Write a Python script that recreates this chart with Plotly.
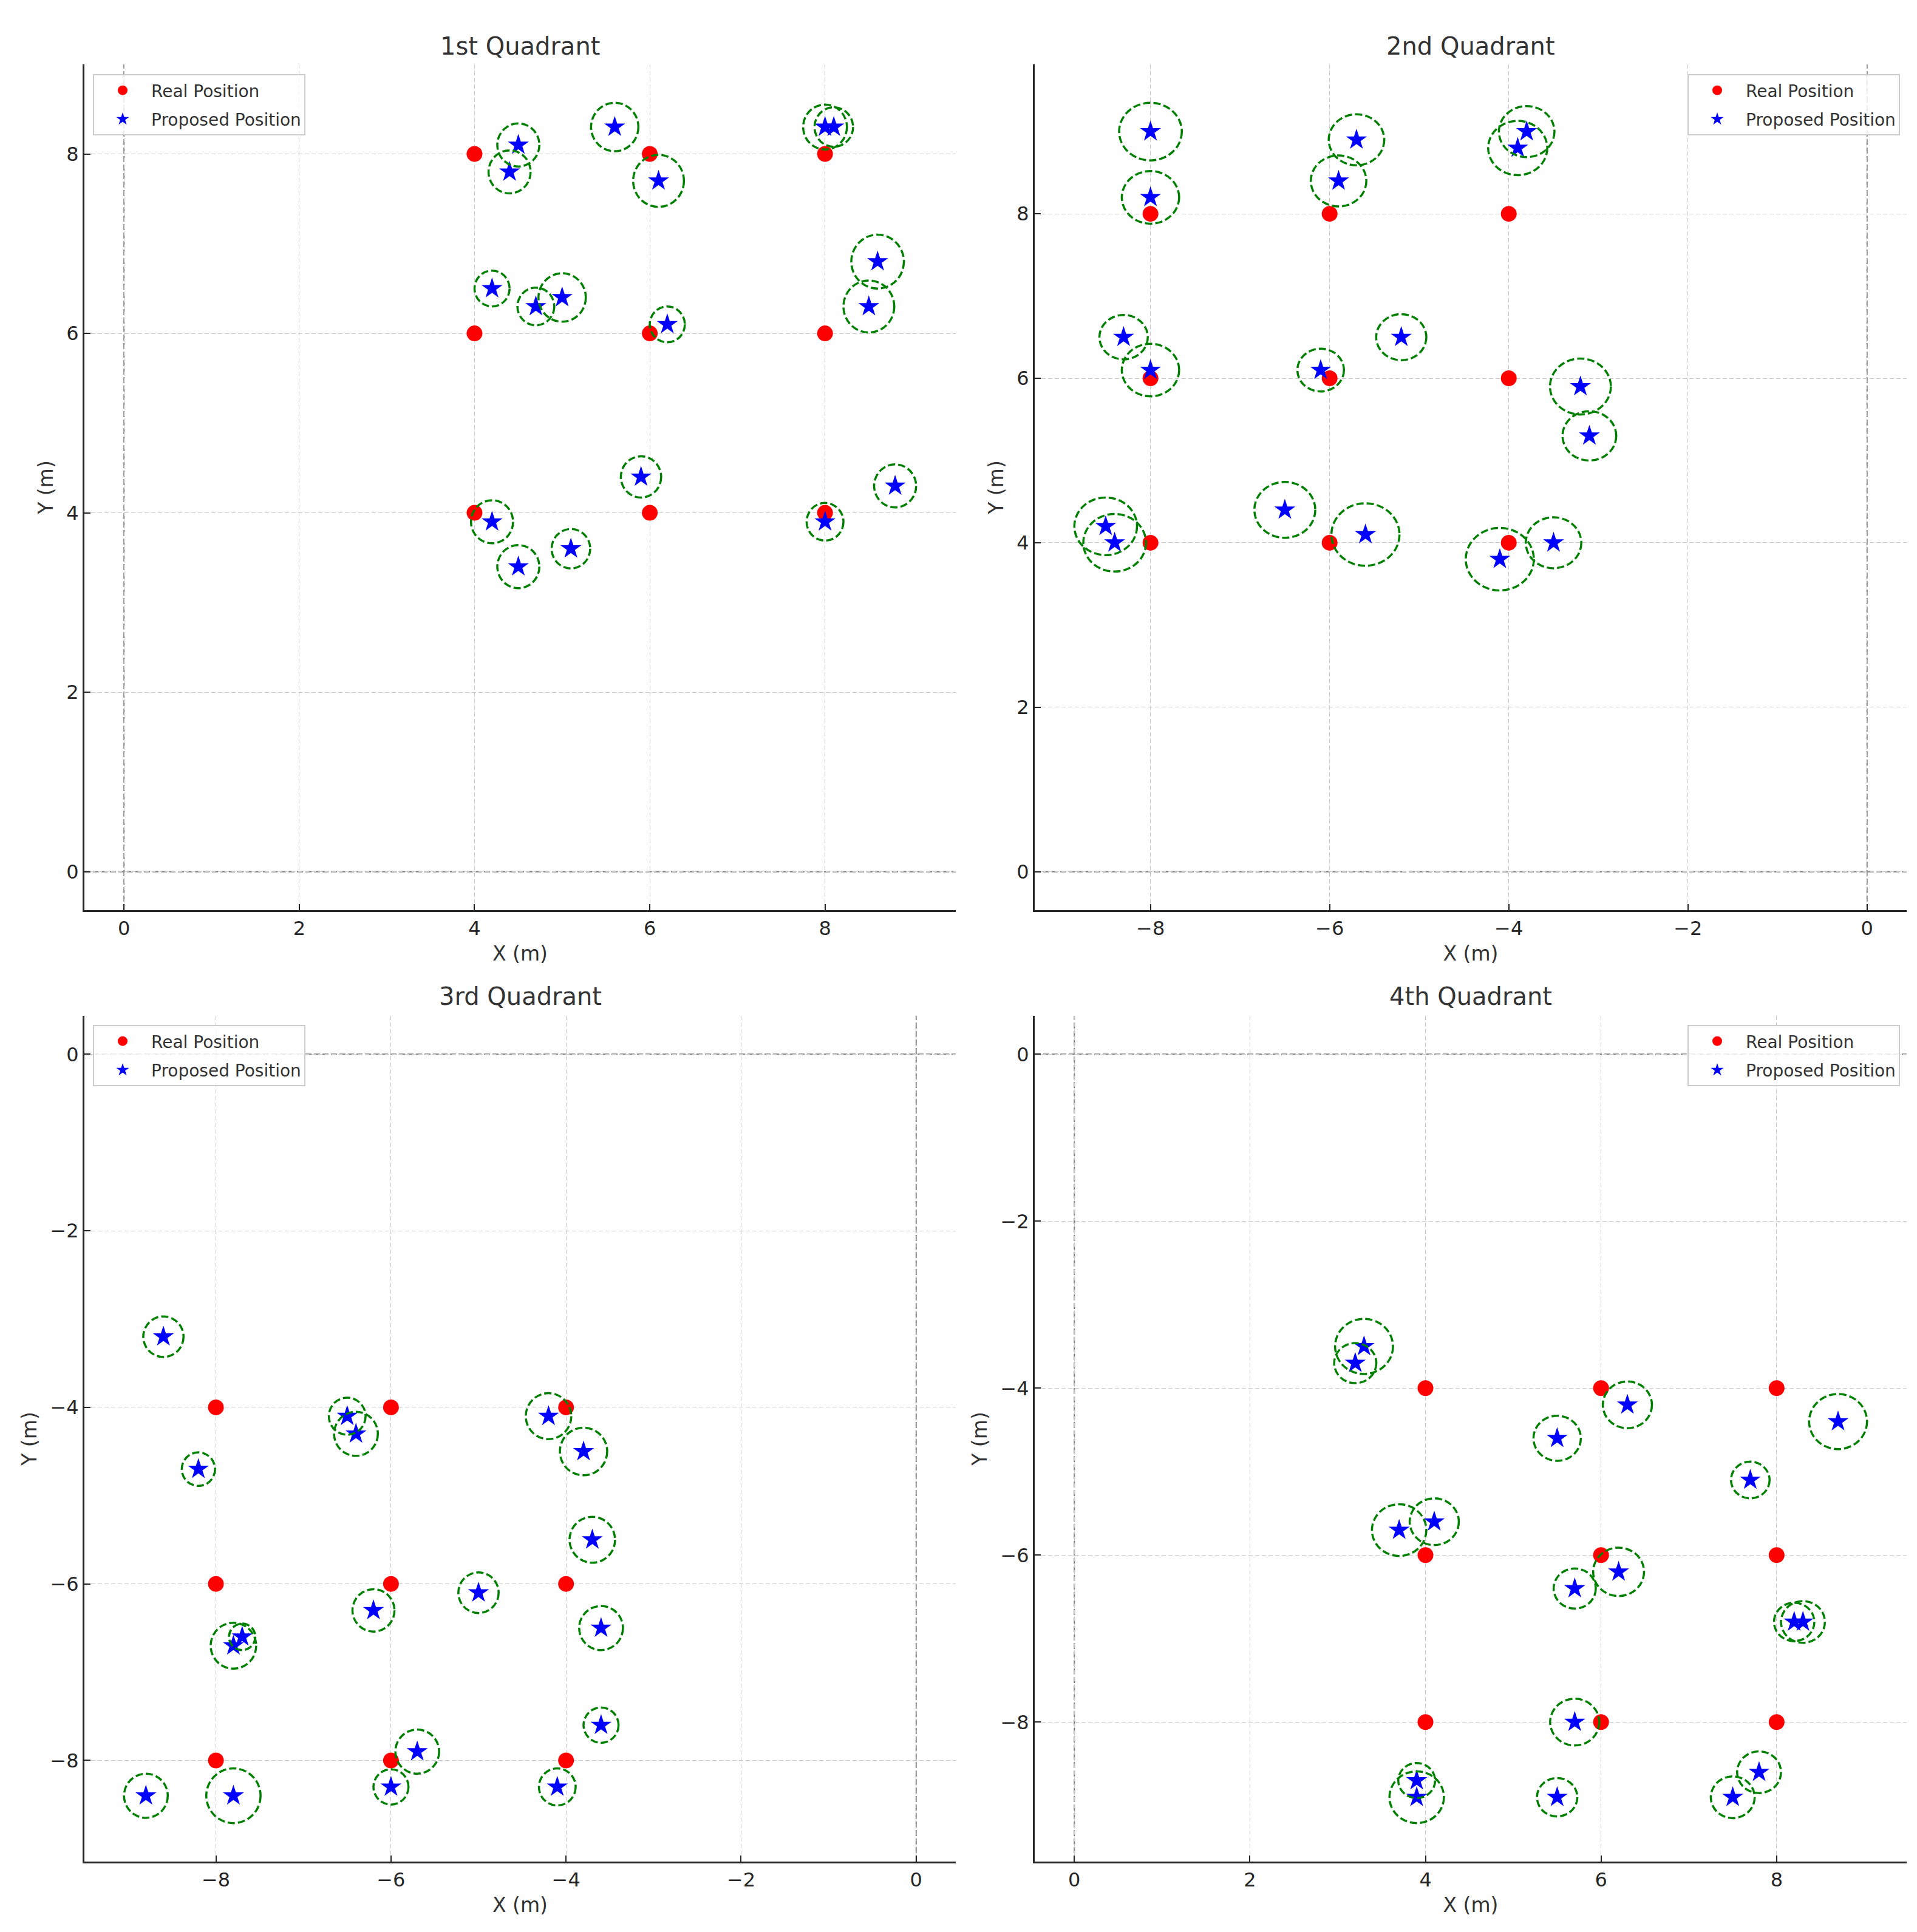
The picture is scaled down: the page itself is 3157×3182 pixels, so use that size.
import plotly.graph_objects as go

# ---------------- data ----------------
titles = ["1st Quadrant", "2nd Quadrant", "3rd Quadrant", "4th Quadrant"]

q1_real_x = [4, 4, 4, 6, 6, 6, 8, 8, 8]
q1_real_y = [4, 6, 8, 4, 6, 8, 4, 6, 8]
q1_prop_x = [4.5, 4.4, 5.6, 6.1, 8.0, 8.1, 8.6, 8.5, 4.2, 4.7, 5.0, 6.2, 5.9, 8.8, 4.2, 4.5, 5.1, 8.0]
q1_prop_y = [8.1, 7.8, 8.3, 7.7, 8.3, 8.3, 6.8, 6.3, 6.5, 6.3, 6.4, 6.1, 4.4, 4.3, 3.9, 3.4, 3.6, 3.9]
q1_radius = [0.24, 0.24, 0.27, 0.29, 0.25, 0.22, 0.30, 0.29, 0.20, 0.21, 0.27, 0.20, 0.23, 0.24, 0.24, 0.24, 0.22, 0.21]

q2_real_x = [-8, -8, -8, -6, -6, -6, -4, -4, -4]
q2_real_y = [4, 6, 8, 4, 6, 8, 4, 6, 8]
q2_prop_x = [-8.0, -8.0, -5.7, -5.9, -3.8, -3.9, -8.3, -8.0, -6.1, -5.2, -3.2, -3.1, -8.5, -8.4, -6.5, -5.6, -4.1, -3.5]
q2_prop_y = [9.0, 8.2, 8.9, 8.4, 9.0, 8.8, 6.5, 6.1, 6.1, 6.5, 5.9, 5.3, 4.2, 4.0, 4.4, 4.1, 3.8, 4.0]
q2_radius = [0.35, 0.32, 0.31, 0.31, 0.31, 0.33, 0.27, 0.32, 0.26, 0.28, 0.34, 0.30, 0.35, 0.35, 0.34, 0.38, 0.38, 0.31]

q3_real_x = [-8, -8, -8, -6, -6, -6, -4, -4, -4]
q3_real_y = [-4, -6, -8, -4, -6, -8, -4, -6, -8]
q3_prop_x = [-8.6, -8.2, -6.5, -6.4, -4.2, -3.8, -3.7, -5.0, -6.2, -7.7, -7.8, -3.6, -3.6, -5.7, -6.0, -4.1, -8.8, -7.8]
q3_prop_y = [-3.2, -4.7, -4.1, -4.3, -4.1, -4.5, -5.5, -6.1, -6.3, -6.6, -6.7, -6.5, -7.6, -7.9, -8.3, -8.3, -8.4, -8.4]
q3_radius = [0.23, 0.19, 0.21, 0.25, 0.26, 0.27, 0.26, 0.23, 0.24, 0.15, 0.26, 0.25, 0.20, 0.25, 0.20, 0.21, 0.25, 0.31]

q4_real_x = [4, 4, 4, 6, 6, 6, 8, 8, 8]
q4_real_y = [-4, -6, -8, -4, -6, -8, -4, -6, -8]
q4_prop_x = [3.3, 3.2, 6.3, 5.5, 8.7, 7.7, 3.7, 4.1, 5.7, 6.2, 8.2, 8.3, 5.7, 7.8, 7.5, 5.5, 3.9, 3.9]
q4_prop_y = [-3.5, -3.7, -4.2, -4.6, -4.4, -5.1, -5.7, -5.6, -6.4, -6.2, -6.8, -6.8, -8.0, -8.6, -8.9, -8.9, -8.7, -8.9]
q4_radius = [0.33, 0.24, 0.28, 0.27, 0.33, 0.22, 0.31, 0.28, 0.24, 0.29, 0.23, 0.25, 0.28, 0.25, 0.25, 0.23, 0.21, 0.31]

quadrants = [
    (q1_real_x, q1_real_y, q1_prop_x, q1_prop_y, q1_radius),
    (q2_real_x, q2_real_y, q2_prop_x, q2_prop_y, q2_radius),
    (q3_real_x, q3_real_y, q3_prop_x, q3_prop_y, q3_radius),
    (q4_real_x, q4_real_y, q4_prop_x, q4_prop_y, q4_radius),
]

# ---------------- layout geometry ----------------
W, H = 3157, 3182
FONT = "DejaVu Sans"
dom_x = [[139 / W, 1574 / W], [1704 / W, 3140 / W]]
dom_y = [[1 - 1499 / H, 1 - 106 / H], [1 - 3066 / H, 1 - 1673 / H]]
title_y = [1 - 76 / H, 1 - 1641 / H]
legend_pos = [
    dict(x=153 / W, xanchor="left"),
    dict(x=3129 / W, xanchor="right"),
    dict(x=153 / W, xanchor="left"),
    dict(x=3129 / W, xanchor="right"),
]
legend_top = [1 - 122 / H, 1 - 1688 / H]


def auto_range(lo_vals, hi_vals):
    lo = min(min(lo_vals), 0)
    hi = max(max(hi_vals), 0)
    pad = 0.05 * (hi - lo)
    return [lo - pad, hi + pad]


fig = go.Figure()
shapes = []
annotations = []
layout = {}

for i, (rx, ry, px, py, rad) in enumerate(quadrants):
    n = "" if i == 0 else str(i + 1)
    col, row = i % 2, i // 2
    xa, ya = "x" + n, "y" + n
    leg = "legend" + n

    fig.add_trace(go.Scatter(
        x=rx, y=ry, mode="markers", name="Real Position", legendgroup="real",
        marker=dict(color="red", size=26, symbol="circle", line=dict(width=0)),
        xaxis=xa, yaxis=ya, legend=leg,
    ))
    fig.add_trace(go.Scatter(
        x=px, y=py, mode="markers", name="Proposed Position", legendgroup="prop",
        marker=dict(color="blue", size=26, symbol="star", line=dict(width=0)),
        xaxis=xa, yaxis=ya, legend=leg,
    ))

    xr = auto_range([a - r for a, r in zip(px, rad)] + rx, [a + r for a, r in zip(px, rad)] + rx)
    yr = auto_range([b - r for b, r in zip(py, rad)] + ry, [b + r for b, r in zip(py, rad)] + ry)

    axis_common = dict(
        showgrid=True, gridcolor="#c8c8c8", gridwidth=1.4, griddash="7px,4px",
        zeroline=False, showline=True, linecolor="#262626", linewidth=3,
        ticks="inside", ticklen=10, tickwidth=2, tickcolor="#262626",
        tickfont=dict(size=32, color="#262626", family=FONT),
        dtick=2, mirror=False,
    )
    layout["xaxis" + n] = dict(
        axis_common, domain=dom_x[col], range=xr, anchor=ya,
        title=dict(text="X (m)", font=dict(size=33, color="#333333", family=FONT), standoff=12),
    )
    layout["yaxis" + n] = dict(
        axis_common, domain=dom_y[row], range=yr, anchor=xa,
        title=dict(text="Y (m)", font=dict(size=33, color="#333333", family=FONT), standoff=12),
    )

    layout["legend" + n] = dict(
        legend_pos[i], y=legend_top[row], yanchor="top",
        bgcolor="rgba(255,255,255,0.8)", bordercolor="#cccccc", borderwidth=2,
        font=dict(size=28, color="#333333", family=FONT),
        itemwidth=84, tracegroupgap=8, traceorder="grouped",
    )

    # reference lines at x=0 and y=0
    shapes.append(dict(type="line", xref=xa, yref=ya + " domain", x0=0, x1=0, y0=0, y1=1,
                       line=dict(color="gray", width=2, dash="10px,4px"), layer="below"))
    shapes.append(dict(type="line", xref=xa + " domain", yref=ya, x0=0, x1=1, y0=0, y1=0,
                       line=dict(color="gray", width=2, dash="10px,4px"), layer="below"))

    # uncertainty circles around proposed positions
    for a, b, r in zip(px, py, rad):
        shapes.append(dict(type="circle", xref=xa, yref=ya,
                           x0=a - r, x1=a + r, y0=b - r, y1=b + r,
                           line=dict(color="green", width=3.5, dash="12px,5px"),
                           fillcolor="rgba(0,0,0,0)", layer="above"))

    annotations.append(dict(
        text=titles[i], xref="paper", yref="paper",
        x=sum(dom_x[col]) / 2, y=title_y[row], xanchor="center", yanchor="middle",
        showarrow=False, font=dict(size=40, color="#333333", family=FONT),
    ))

fig.update_layout(
    width=W, height=H,
    margin=dict(l=0, r=0, t=0, b=0),
    paper_bgcolor="white", plot_bgcolor="white",
    font=dict(family=FONT),
    shapes=shapes, annotations=annotations,
    **layout,
)

fig.write_html("out.html", config={"displayModeBar": False},
               post_script="document.body.style.margin='0';")
